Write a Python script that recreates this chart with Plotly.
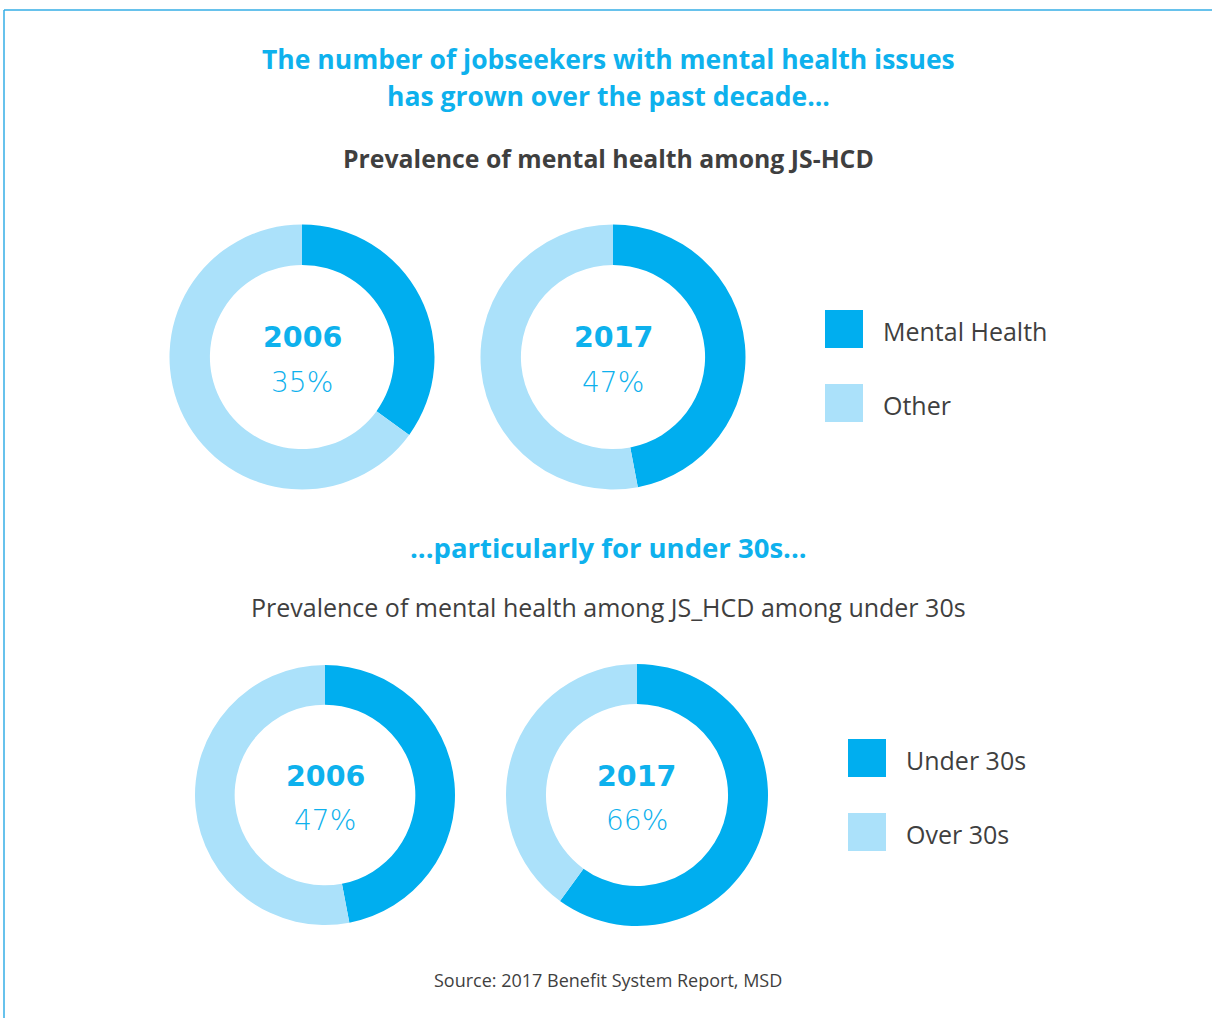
import plotly.graph_objects as go

W, H = 1212, 1018

# ---- data ----
years = ["2006", "2017", "2006", "2017"]
pct_labels = ["35%", "47%", "47%", "66%"]
# drawn share of the dark segment (as read from the arcs)
dark_share = [35, 47, 47, 60]
top_labels = ["Mental Health", "Other"]
bottom_labels = ["Under 30s", "Over 30s"]

DARK = "#00AEEF"
LIGHT = "#ABE1FA"
CYAN_TXT = "#0EB1ED"
GREY = "#3F3F3F"

# donut geometry in pixels (center x, center y, radius)
geo = [(302, 357, 132.5), (613, 357, 132.5), (325, 795, 130), (637, 795, 131)]

def px(x):
    return x / W

def py(y):
    return 1 - y / H

fig = go.Figure()
for i, (cx, cy, r) in enumerate(geo):
    labels = top_labels if i < 2 else bottom_labels
    fig.add_trace(go.Pie(
        values=[dark_share[i], 100 - dark_share[i]],
        labels=labels,
        hole=0.695,
        sort=False,
        direction="clockwise",
        rotation=0,
        textinfo="none",
        hoverinfo="label+percent",
        marker=dict(colors=[DARK, LIGHT], line=dict(width=0)),
        domain=dict(x=[px(cx - r), px(cx + r)], y=[py(cy + r), py(cy - r)]),
        showlegend=False,
    ))

ann = []
BODY = "Open Sans"

def text(x, y, t, size, color, family=BODY, bold=False, xanchor="center", weight=None):
    f = dict(size=size, color=color, family=family)
    if weight is not None:
        f["weight"] = weight
    ann.append(dict(
        x=px(x), y=py(y), xref="paper", yref="paper",
        text=f"<b>{t}</b>" if bold else t,
        showarrow=False, xanchor=xanchor, yanchor="middle",
        font=f,
    ))

text(608, 59, "The number of jobseekers with mental health issues", 26.5, CYAN_TXT, BODY, True)
text(608, 96, "has grown over the past decade...", 26.5, CYAN_TXT, BODY, True)
text(608, 158, "Prevalence of mental health among JS-HCD", 24.8, GREY, BODY, True)
text(608, 547, "...particularly for under 30s...", 27.5, CYAN_TXT, BODY, True)
text(608, 607, "Prevalence of mental health among JS_HCD among under 30s", 25, GREY, BODY)
text(608, 980, "Source: 2017 Benefit System Report, MSD", 18, GREY, BODY)

for i, (cx, cy, r) in enumerate(geo):
    text(cx, cy - 19, years[i], 28.5, CYAN_TXT, "DejaVu Sans", True)
    text(cx, cy + 25, pct_labels[i], 28, CYAN_TXT, "DejaVu Sans", weight=200)

shapes = []
# legends
leg = [(825, 329, top_labels), (848, 758, bottom_labels)]
for lx, ly, labs in leg:
    for j, lab in enumerate(labs):
        yc = ly + j * 74
        shapes.append(dict(type="rect", xref="paper", yref="paper",
                           x0=px(lx), x1=px(lx + 38), y0=py(yc + 19), y1=py(yc - 19),
                           fillcolor=[DARK, LIGHT][j], line=dict(width=0)))
        text(lx + 56, yc + 2, lab, 25, GREY, BODY, xanchor="left")

# frame lines
shapes.append(dict(type="line", xref="paper", yref="paper", x0=px(4), x1=1, y0=py(10), y1=py(10),
                   line=dict(color="#34AEE6", width=1.5)))
shapes.append(dict(type="line", xref="paper", yref="paper", x0=px(4), x1=px(4), y0=py(10), y1=0,
                   line=dict(color="#34AEE6", width=1.5)))

fig.update_layout(
    width=W, height=H,
    margin=dict(l=0, r=0, t=0, b=0),
    paper_bgcolor="white", plot_bgcolor="white",
    annotations=ann, shapes=shapes,
    showlegend=False,
)
fig.write_html(
    "out.html",
    config={"displayModeBar": False},
    post_script="document.body.style.margin='0';document.body.style.overflow='hidden';",
)
